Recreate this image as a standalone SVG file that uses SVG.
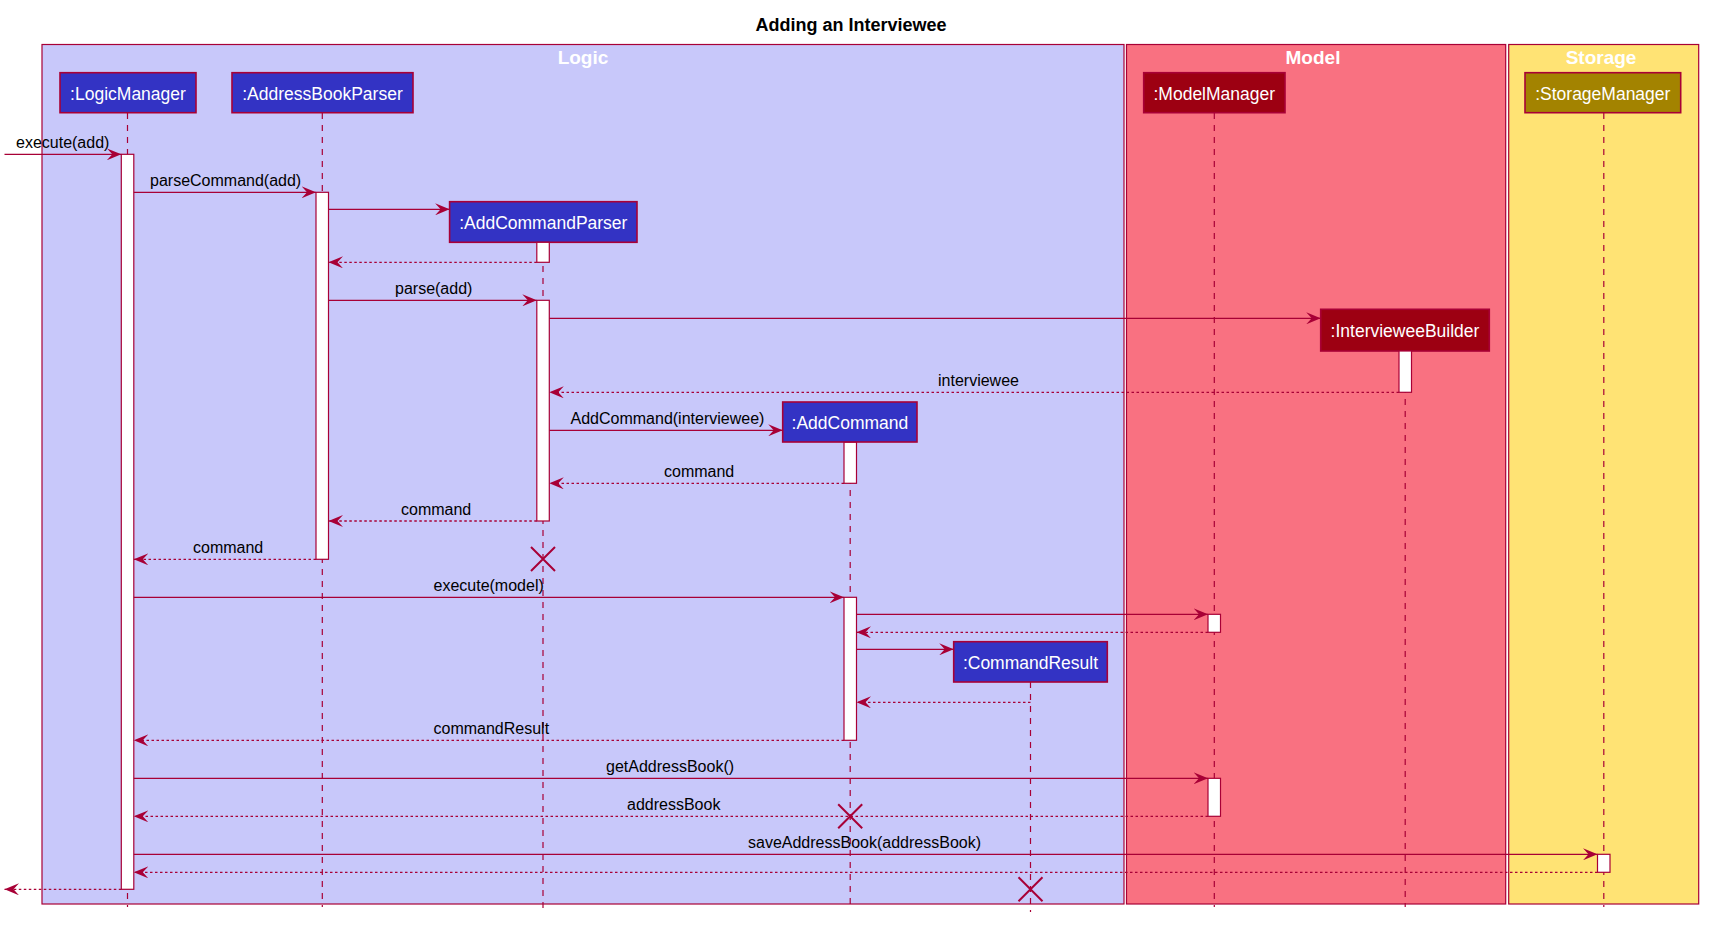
<svg xmlns="http://www.w3.org/2000/svg" width="1710" height="925" viewBox="0 0 1710 925">
<style>
.lane{stroke:#A80036;stroke-width:1.2}
.lt{font-family:"Liberation Sans",Arial,sans-serif;font-weight:bold;font-size:19px;fill:#FFFFFF;text-anchor:middle}
.title{font-family:"Liberation Sans",Arial,sans-serif;font-weight:bold;font-size:18px;fill:#000000;text-anchor:middle}
.pbox{stroke:#A80036;stroke-width:1.6}
.pt{font-family:"Liberation Sans",Arial,sans-serif;font-size:17.5px;fill:#FFFFFF;text-anchor:middle}
.life{stroke:#A80036;stroke-width:1.2;stroke-dasharray:6,6;fill:none}
.act{fill:#FFFFFF;stroke:#A80036;stroke-width:1.2}
.msg{stroke:#A80036;stroke-width:1.3;fill:none;marker-end:url(#ah)}
.ret{stroke:#A80036;stroke-width:1.3;fill:none;stroke-dasharray:2.5,2.5;marker-end:url(#ah)}
.ml{font-family:"Liberation Sans",Arial,sans-serif;font-size:16px;fill:#000000}
.x{stroke:#A80036;stroke-width:2;fill:none}
</style>
<defs>
<marker id="ah" markerUnits="userSpaceOnUse" markerWidth="16" markerHeight="12" refX="14.5" refY="6" orient="auto">
<path d="M0,0 L14.5,6 L0,12 L5.5,6 Z" fill="#A80036"/>
</marker>
</defs>
<rect width="1710" height="925" fill="#FFFFFF"/>
<text class="title" x="851" y="30.5">Adding an Interviewee</text>
<g id="box-logic">
<rect class="lane" x="42" y="44.5" width="1082" height="859.5" fill="#C8C8FA"/>
<text class="lt" x="583" y="64">Logic</text>
</g>
<g id="box-model">
<rect class="lane" x="1126.5" y="44.5" width="379.2" height="859.5" fill="#F97181"/>
<text class="lt" x="1313" y="64">Model</text>
</g>
<g id="box-storage">
<rect class="lane" x="1508.7" y="44.5" width="190" height="859.5" fill="#FFE374"/>
<text class="lt" x="1601" y="64">Storage</text>
</g>
<g id="lifelines">
<line class="life" x1="127.5" y1="113" x2="127.5" y2="907"/>
<line class="life" x1="322.3" y1="113" x2="322.3" y2="907"/>
<line class="life" x1="543" y1="242" x2="543" y2="910"/>
<line class="life" x1="850.2" y1="442" x2="850.2" y2="910"/>
<line class="life" x1="1030.5" y1="682" x2="1030.5" y2="912"/>
<line class="life" x1="1214.3" y1="113" x2="1214.3" y2="907"/>
<line class="life" x1="1405.2" y1="351" x2="1405.2" y2="907"/>
<line class="life" x1="1603.8" y1="113" x2="1603.8" y2="907"/>
</g>
<g id="LogicManager">
<rect class="pbox" x="60" y="72.7" width="136" height="40" fill="#3333C4"/>
<text class="pt" x="128" y="99.5">:LogicManager</text>
<rect class="act" x="121.3" y="154.3" width="12.5" height="735"/>
</g>
<g id="AddressBookParser">
<rect class="pbox" x="232" y="72.7" width="181" height="40" fill="#3333C4"/>
<text class="pt" x="322.5" y="99.5">:AddressBookParser</text>
<rect class="act" x="316" y="192.3" width="12.5" height="367"/>
</g>
<g id="AddCommandParser">
<rect class="pbox" x="449.6" y="201.7" width="187.4" height="40.6" fill="#3333C4"/>
<text class="pt" x="543.3" y="228.7">:AddCommandParser</text>
<rect class="act" x="536.8" y="242.3" width="12.5" height="20"/>
<rect class="act" x="536.8" y="300.3" width="12.5" height="220.7"/>
<path class="x" d="M531,547 L555,571 M555,547 L531,571"/>
</g>
<g id="IntervieweeBuilder">
<rect class="pbox" x="1320.7" y="309.3" width="168.6" height="41.7" fill="#9D0012"/>
<text class="pt" x="1405" y="336.5">:IntervieweeBuilder</text>
<rect class="act" x="1399" y="351" width="12.5" height="41.3"/>
</g>
<g id="AddCommand">
<rect class="pbox" x="782.7" y="402" width="134.3" height="40" fill="#3333C4"/>
<text class="pt" x="849.9" y="428.8">:AddCommand</text>
<rect class="act" x="844" y="442.3" width="12.5" height="41"/>
<rect class="act" x="844" y="597.3" width="12.5" height="143"/>
<path class="x" d="M838.2,804.3 L862.2,828.3 M862.2,804.3 L838.2,828.3"/>
</g>
<g id="CommandResult">
<rect class="pbox" x="953.7" y="641.7" width="153.6" height="40.3" fill="#3333C4"/>
<text class="pt" x="1030.5" y="668.5">:CommandResult</text>
<path class="x" d="M1018.5,877.3 L1042.5,901.3 M1042.5,877.3 L1018.5,901.3"/>
</g>
<g id="ModelManager">
<rect class="pbox" x="1143.7" y="72.7" width="141.3" height="40" fill="#9D0012"/>
<text class="pt" x="1214.3" y="99.5">:ModelManager</text>
<rect class="act" x="1208" y="614.3" width="12.5" height="18"/>
<rect class="act" x="1208" y="778.3" width="12.5" height="38"/>
</g>
<g id="StorageManager">
<rect class="pbox" x="1525" y="72.7" width="155.7" height="40" fill="#A38300"/>
<text class="pt" x="1602.8" y="99.5">:StorageManager</text>
<rect class="act" x="1597.5" y="854.3" width="12.5" height="18"/>
</g>
<g id="connectors">
<line class="msg" x1="4.5" y1="154.3" x2="121.3" y2="154.3"/>
<text class="ml" x="16" y="147.8">execute(add)</text>
<line class="msg" x1="133.8" y1="192.3" x2="316" y2="192.3"/>
<text class="ml" x="150" y="185.8">parseCommand(add)</text>
<line class="msg" x1="328.5" y1="209.3" x2="449.6" y2="209.3"/>
<line class="ret" x1="536.8" y1="262.3" x2="328.5" y2="262.3"/>
<line class="msg" x1="328.5" y1="300.3" x2="536.8" y2="300.3"/>
<text class="ml" x="395" y="293.8">parse(add)</text>
<line class="msg" x1="549.3" y1="318.3" x2="1320.7" y2="318.3"/>
<line class="ret" x1="1399" y1="392.3" x2="549.3" y2="392.3"/>
<text class="ml" x="938" y="385.8">interviewee</text>
<line class="msg" x1="549.3" y1="430.3" x2="782.7" y2="430.3"/>
<text class="ml" x="570.5" y="423.8">AddCommand(interviewee)</text>
<line class="ret" x1="844" y1="483.3" x2="549.3" y2="483.3"/>
<text class="ml" x="664" y="476.8">command</text>
<line class="ret" x1="536.8" y1="521" x2="328.5" y2="521"/>
<text class="ml" x="401" y="514.5">command</text>
<line class="ret" x1="316" y1="559.3" x2="133.8" y2="559.3"/>
<text class="ml" x="193" y="552.8">command</text>
<line class="msg" x1="133.8" y1="597.3" x2="844" y2="597.3"/>
<text class="ml" x="433.5" y="590.8">execute(model)</text>
<line class="msg" x1="856.5" y1="614.3" x2="1208" y2="614.3"/>
<line class="ret" x1="1208" y1="632.3" x2="856.5" y2="632.3"/>
<line class="msg" x1="856.5" y1="649.3" x2="953.7" y2="649.3"/>
<line class="ret" x1="1030.5" y1="702.3" x2="856.5" y2="702.3"/>
<line class="ret" x1="844" y1="740.3" x2="133.8" y2="740.3"/>
<text class="ml" x="433.5" y="733.8">commandResult</text>
<line class="msg" x1="133.8" y1="778.3" x2="1208" y2="778.3"/>
<text class="ml" x="606" y="771.8">getAddressBook()</text>
<line class="ret" x1="1208" y1="816.3" x2="133.8" y2="816.3"/>
<text class="ml" x="627" y="809.8">addressBook</text>
<line class="msg" x1="133.8" y1="854.3" x2="1597.5" y2="854.3"/>
<text class="ml" x="748" y="847.8">saveAddressBook(addressBook)</text>
<line class="ret" x1="1597.5" y1="872.3" x2="133.8" y2="872.3"/>
<line class="ret" x1="121.3" y1="889.3" x2="4.5" y2="889.3"/>
</g>
</svg>
